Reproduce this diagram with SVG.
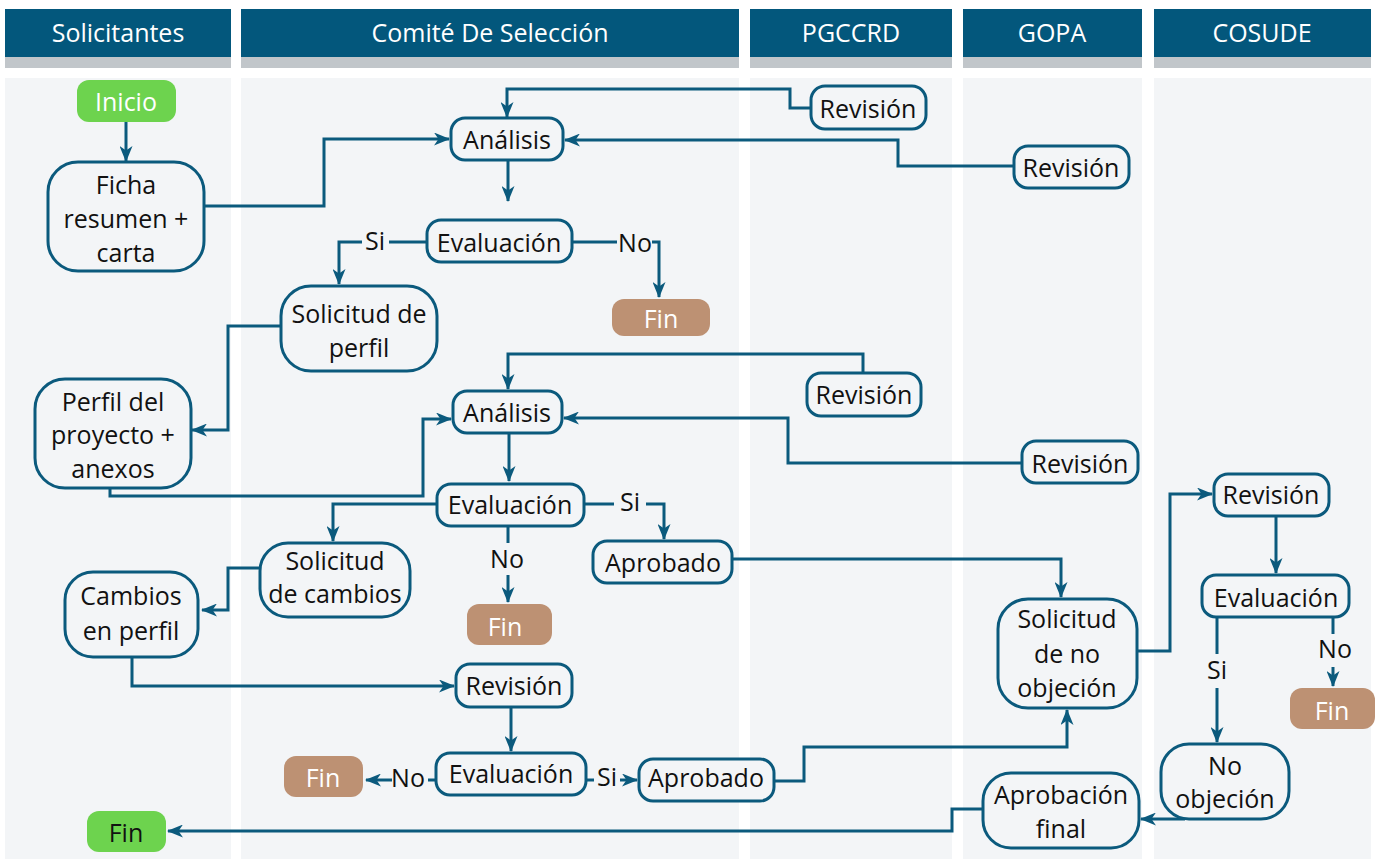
<svg xmlns="http://www.w3.org/2000/svg" width="1376" height="859" viewBox="0 0 1376 859">
<style>
.hdr{fill:#03577c}
.strip{fill:#c1c6ca}
.lane{fill:#f3f5f7}
.ht{font-family:"Open Sans","Noto Sans",sans-serif;font-size:25px;fill:#ffffff;text-anchor:middle}
.node{fill:#f3f5f7;stroke:#0b5a7d;stroke-width:3}
.green{fill:#6dd34e}
.brown{fill:#bd9173}
.t{font-family:"Open Sans","Noto Sans",sans-serif;font-size:25px;fill:#111111;text-anchor:middle}
.tw{font-family:"Open Sans","Noto Sans",sans-serif;font-size:25px;fill:#ffffff;text-anchor:middle}
.c{fill:none;stroke:#0b5a7d;stroke-width:3}
.a{marker-end:url(#ah)}
</style>
<defs>
<marker id="ah" viewBox="0 0 16 13" refX="15" refY="6.5" markerWidth="16" markerHeight="13" orient="auto" markerUnits="userSpaceOnUse">
<path d="M0,0 L16,6.5 L0,13 L4.5,6.5 z" fill="#0b5a7d"/>
</marker>
</defs>
<rect width="1376" height="859" fill="#ffffff"/>
<g id="lanes">
<rect class="hdr" x="5" y="9" width="226" height="48"/><rect class="strip" x="5" y="57" width="226" height="11"/><rect class="lane" x="5" y="78" width="226" height="781"/>
<text class="ht" x="118" y="42">Solicitantes</text>
<rect class="hdr" x="241" y="9" width="498" height="48"/><rect class="strip" x="241" y="57" width="498" height="11"/><rect class="lane" x="241" y="78" width="498" height="781"/>
<text class="ht" x="490" y="42">Comité De Selección</text>
<rect class="hdr" x="750" y="9" width="202" height="48"/><rect class="strip" x="750" y="57" width="202" height="11"/><rect class="lane" x="750" y="78" width="202" height="781"/>
<text class="ht" x="851" y="42">PGCCRD</text>
<rect class="hdr" x="963" y="9" width="179" height="48"/><rect class="strip" x="963" y="57" width="179" height="11"/><rect class="lane" x="963" y="78" width="179" height="781"/>
<text class="ht" x="1052" y="42">GOPA</text>
<rect class="hdr" x="1154" y="9" width="217" height="48"/><rect class="strip" x="1154" y="57" width="217" height="11"/><rect class="lane" x="1154" y="78" width="217" height="781"/>
<text class="ht" x="1262" y="42">COSUDE</text>
</g>
<g id="connectors">
<path class="c a" d="M126,122 V161"/>
<path class="c a" d="M204,206 H324 V139 H449"/>
<path class="c a" d="M811,108 H790 V89 H507 V117"/>
<path class="c a" d="M1014,166 H898 V140 H565"/>
<path class="c a" d="M508,160 V201"/>
<path class="c" d="M427,242 H389"/><path class="c a" d="M362,242 H339 V284"/>
<text class="t" x="375" y="250">Si</text>
<path class="c" d="M572,242 H617"/><path class="c a" d="M652,242 H659 V297"/>
<text class="t" x="635" y="252">No</text>
<path class="c a" d="M281,326 H228 V430 H192"/>
<path class="c a" d="M110,488 V496 H423 V419 H451"/>
<path class="c a" d="M863,373 V354 H508 V389"/>
<path class="c a" d="M1022,463 H788 V418 H564"/>
<path class="c a" d="M509,433 V481"/>
<path class="c a" d="M437,504 H333 V541"/>
<path class="c" d="M584,504 H614"/><path class="c a" d="M646,504 H664 V539"/>
<text class="t" x="630" y="511">Si</text>
<path class="c" d="M508,526 V543"/><path class="c a" d="M508,575 V602"/>
<text class="t" x="507" y="568">No</text>
<path class="c a" d="M732,559 H1061 V597"/>
<path class="c a" d="M1137,651 H1170 V494 H1212"/>
<path class="c a" d="M1276,516 V573"/>
<path class="c" d="M1217,617 V654"/><path class="c a" d="M1217,688 V742"/>
<text class="t" x="1217" y="679">Si</text>
<path class="c" d="M1333,617 V634"/><path class="c a" d="M1333,667 V686"/>
<text class="t" x="1335" y="658">No</text>
<path class="c a" d="M1185,819 H1141"/>
<path class="c a" d="M983,809 H952 V831 H168"/>
<path class="c a" d="M774,781 H804 V747 H1067 V710"/>
<path class="c a" d="M261,568 H228 V610 H202"/>
<path class="c a" d="M132,657 V686 H454"/>
<path class="c a" d="M511,707 V751"/>
<path class="c" d="M586,780 H594"/><path class="c a" d="M620,780 H637"/>
<text class="t" x="607" y="786">Si</text>
<path class="c" d="M436,780 H428"/><path class="c a" d="M392,780 H366"/>
<text class="t" x="408" y="787">No</text>
</g>
<g id="inicio"><rect class="green" x="77" y="80" width="99" height="42" rx="12"/><text class="tw" x="126" y="111">Inicio</text></g>
<g id="ficha"><rect class="node" x="48" y="162" width="156" height="109" rx="30"/><text class="t" x="126" y="194">Ficha</text><text class="t" x="126" y="228">resumen +</text><text class="t" x="126" y="262">carta</text></g>
<g id="analisis1"><rect class="node" x="451" y="118" width="112" height="42" rx="14"/><text class="t" x="507" y="149">Análisis</text></g>
<g id="rev_pg1"><rect class="node" x="811" y="86" width="115" height="43" rx="14"/><text class="t" x="868" y="118">Revisión</text></g>
<g id="rev_gopa1"><rect class="node" x="1014" y="146" width="115" height="42" rx="14"/><text class="t" x="1071" y="177">Revisión</text></g>
<g id="eval1"><rect class="node" x="427" y="220" width="145" height="42" rx="14"/><text class="t" x="499" y="252">Evaluación</text></g>
<g id="fin1"><rect class="brown" x="612" y="299" width="98" height="37" rx="12"/><text class="tw" x="661" y="328">Fin</text></g>
<g id="sol_perfil"><rect class="node" x="281" y="286" width="156" height="85" rx="30"/><text class="t" x="359" y="323">Solicitud de</text><text class="t" x="359" y="357">perfil</text></g>
<g id="perfil"><rect class="node" x="35" y="379" width="156" height="109" rx="30"/><text class="t" x="113" y="411">Perfil del</text><text class="t" x="113" y="444">proyecto +</text><text class="t" x="113" y="478">anexos</text></g>
<g id="analisis2"><rect class="node" x="453" y="391" width="109" height="42" rx="14"/><text class="t" x="507" y="422">Análisis</text></g>
<g id="rev_pg2"><rect class="node" x="807" y="373" width="114" height="43" rx="14"/><text class="t" x="864" y="404">Revisión</text></g>
<g id="rev_gopa2"><rect class="node" x="1022" y="441" width="116" height="42" rx="14"/><text class="t" x="1080" y="473">Revisión</text></g>
<g id="eval2"><rect class="node" x="437" y="484" width="147" height="42" rx="14"/><text class="t" x="510" y="514">Evaluación</text></g>
<g id="sol_cambios"><rect class="node" x="260" y="543" width="150" height="74" rx="28"/><text class="t" x="335" y="570">Solicitud</text><text class="t" x="335" y="603">de cambios</text></g>
<g id="aprobado1"><rect class="node" x="593" y="541" width="139" height="42" rx="14"/><text class="t" x="663" y="572">Aprobado</text></g>
<g id="fin2"><rect class="brown" x="467" y="604" width="85" height="41" rx="12"/><text class="tw" x="505" y="636">Fin</text></g>
<g id="cambios"><rect class="node" x="65" y="572" width="133" height="85" rx="28"/><text class="t" x="131" y="605">Cambios</text><text class="t" x="131" y="640">en perfil</text></g>
<g id="sol_noobj"><rect class="node" x="998" y="599" width="139" height="109" rx="30"/><text class="t" x="1067" y="628">Solicitud</text><text class="t" x="1067" y="663">de no</text><text class="t" x="1067" y="697">objeción</text></g>
<g id="rev_cos"><rect class="node" x="1214" y="474" width="115" height="42" rx="14"/><text class="t" x="1271" y="504">Revisión</text></g>
<g id="eval_cos"><rect class="node" x="1202" y="575" width="147" height="42" rx="14"/><text class="t" x="1276" y="607">Evaluación</text></g>
<g id="fin_cos"><rect class="brown" x="1290" y="688" width="85" height="41" rx="12"/><text class="tw" x="1332" y="720">Fin</text></g>
<g id="noobj"><rect class="node" x="1161" y="744" width="128" height="75" rx="28"/><text class="t" x="1225" y="775">No</text><text class="t" x="1225" y="808">objeción</text></g>
<g id="aprob_final"><rect class="node" x="983" y="773" width="156" height="75" rx="28"/><text class="t" x="1061" y="804">Aprobación</text><text class="t" x="1061" y="838">final</text></g>
<g id="rev_com"><rect class="node" x="456" y="664" width="116" height="43" rx="14"/><text class="t" x="514" y="695">Revisión</text></g>
<g id="eval3"><rect class="node" x="436" y="753" width="150" height="42" rx="14"/><text class="t" x="511" y="783">Evaluación</text></g>
<g id="aprobado2"><rect class="node" x="639" y="759" width="135" height="42" rx="14"/><text class="t" x="706" y="787">Aprobado</text></g>
<g id="fin3"><rect class="brown" x="284" y="756" width="79" height="41" rx="12"/><text class="tw" x="323" y="787">Fin</text></g>
<g id="fin_green"><rect class="green" x="87" y="811" width="79" height="41" rx="12"/><text class="t" x="126" y="842">Fin</text></g>
</svg>
